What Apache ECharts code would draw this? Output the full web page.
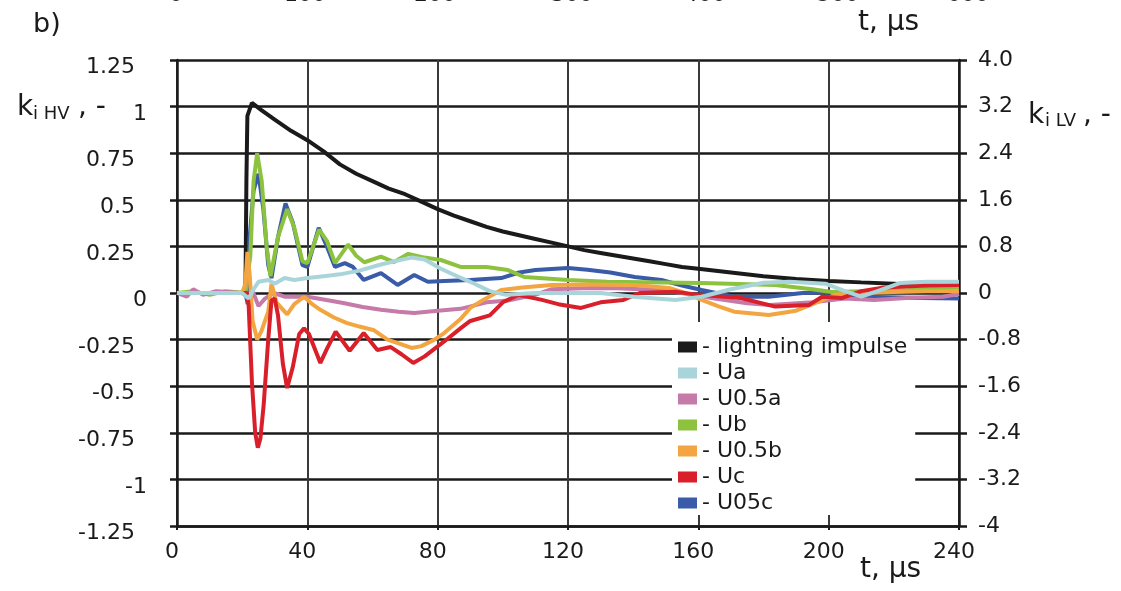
<!DOCTYPE html>
<html>
<head>
<meta charset="utf-8">
<title>b) k HV / k LV</title>
<script src="https://cdn.jsdelivr.net/npm/echarts@6/dist/echarts.min.js"></script>
<style>
  html, body { margin: 0; padding: 0; background: #fff; }
  #chart { width: 1121px; height: 591px; }
</style>
</head>
<body>
<div id="chart"></div>
<script>
// tick labels
var hvTicks = ['-1.25', '-1', '-0.75', '-0.5', '-0.25', '0', '0.25', '0.5', '0.75', '1', '1.25'];
var lvTicks = ['-4', '-3.2', '-2.4', '-1.6', '-0.8', '0', '0.8', '1.6', '2.4', '3.2', '4.0'];
var topTicks = ['0', '100', '200', '300', '400', '500', '600'];

// series, [t in us, k HV]
var impulse = [[0,0],[21,0],[21.3,0.6],[21.6,0.95],[23,1.02],[26,0.98],[30,0.93],[35,0.87],[40,0.82],[45,0.76],
  [50,0.69],[55,0.64],[60,0.6],[65,0.56],[70,0.53],[75,0.49],[80,0.45],[85,0.415],[90,0.385],[95,0.355],
  [100,0.33],[105,0.31],[110,0.29],[115,0.27],[120,0.25],[125,0.23],[130,0.215],[135,0.2],[140,0.185],
  [145,0.17],[150,0.155],[155,0.14],[160,0.13],[170,0.11],[180,0.09],[190,0.075],[200,0.065],[210,0.057],
  [220,0.05],[230,0.04],[240,0.035]];
var ua = [[0,0],[10,0],[20,0],[22,-0.03],[23.5,0.02],[25,0.06],[28,0.07],[30,0.05],[33,0.08],[36,0.07],
  [40,0.08],[45,0.09],[50,0.1],[56,0.12],[62,0.15],[68,0.175],[72,0.19],[76,0.18],[81,0.13],[86,0.09],
  [90,0.06],[96,0.01],[101,-0.01],[110,0],[120,0],[130,0],[140,-0.02],[153,-0.037],[161,-0.02],[170,0.02],
  [180,0.055],[188,0.06],[199,0.05],[205,0.01],[210,-0.02],[215,0.01],[222,0.054],[230,0.06],[240,0.06]];
var u05a = [[0,0],[3,-0.02],[5,0.02],[8,-0.01],[12,0.01],[20,0],[22,-0.03],[23,0.02],[25,-0.07],[27,-0.03],
  [29.7,0],[33,-0.02],[40,-0.02],[45,-0.035],[51,-0.054],[57,-0.075],[62.6,-0.09],[68,-0.1],[72.8,-0.107],
  [80,-0.095],[87,-0.085],[95,-0.05],[101.6,-0.04],[109.8,-0.01],[115,0.02],[127,0.027],[135,0.025],
  [148,0.016],[155,0],[165,-0.03],[175,-0.055],[182,-0.064],[195,-0.05],[205,-0.03],[214,-0.037],
  [225,-0.025],[235,-0.02],[240,-0.005]];
var ub = [[0,0],[5,0.01],[10,-0.01],[15,0.01],[21,0],[22.5,0.2],[23.5,0.6],[24.6,0.75],[26,0.6],[27.5,0.25],
  [28.7,0.09],[31,0.3],[33.8,0.45],[36,0.35],[38.5,0.17],[40,0.16],[43.6,0.34],[46,0.28],[48.5,0.16],
  [52.5,0.26],[55,0.2],[57.5,0.165],[62.6,0.195],[66.6,0.166],[71,0.21],[76,0.19],[81,0.177],[87,0.14],
  [95,0.14],[101.6,0.123],[106.6,0.086],[120,0.07],[132,0.06],[161,0.054],[183.6,0.043],[195,0.02],
  [201,0.005],[210,0.01],[224.6,0.016],[240,0.03]];
var u05b = [[0,0],[10,0],[20,0],[21,0.05],[21.6,0.22],[22.3,0.1],[23.2,-0.15],[24.6,-0.25],[26,-0.2],[28,-0.1],
  [29,0.05],[30.5,-0.05],[33.8,-0.115],[36,-0.06],[39,-0.02],[41.5,-0.06],[44,-0.09],[48,-0.13],[52,-0.16],
  [56,-0.18],[60.5,-0.2],[64.6,-0.25],[68,-0.27],[72,-0.295],[75,-0.285],[79,-0.25],[82,-0.215],[87,-0.14],
  [90,-0.08],[94,-0.037],[99.5,0.016],[106,0.03],[115,0.043],[125,0.045],[140.5,0.043],[151,0.027],[156,0],
  [161,-0.037],[166,-0.07],[171,-0.1],[181.6,-0.118],[190,-0.095],[197,-0.046],[202,-0.01],[210,0],
  [220,0.005],[230,0.01],[240,0.01]];
var uc = [[0,0],[21.5,0],[22,-0.07],[23,-0.48],[24,-0.75],[24.8,-0.83],[25.6,-0.78],[26.6,-0.6],[28,-0.25],
  [29,-0.04],[30,-0.03],[31,-0.12],[32.5,-0.38],[33.8,-0.51],[35.5,-0.4],[37.5,-0.22],[39,-0.19],[40.5,-0.22],
  [44,-0.375],[46,-0.3],[48.7,-0.207],[53,-0.31],[57.3,-0.215],[61.5,-0.306],[65.6,-0.29],[69,-0.33],
  [72.5,-0.375],[76,-0.34],[79,-0.3],[82,-0.26],[87,-0.19],[90,-0.15],[96,-0.12],[100,-0.05],[104.7,-0.01],
  [112,-0.037],[117,-0.06],[124,-0.08],[130,-0.05],[137,-0.037],[142,0],[153,0.007],[160,-0.01],[173,-0.027],
  [183.6,-0.073],[194,-0.064],[198,-0.02],[204,-0.027],[210,0.01],[217,0.03],[230,0.04],[240,0.043]];
var u05c = [[0,0],[21,0],[21.7,-0.06],[22.3,0.3],[23.5,0.55],[25,0.64],[26.5,0.45],[28,0.15],[29,0.08],
  [31,0.3],[33.3,0.48],[35.5,0.38],[38.5,0.15],[40,0.14],[43.5,0.35],[46,0.25],[48.5,0.14],[51.5,0.16],
  [54,0.14],[57.3,0.07],[62.6,0.107],[67.7,0.043],[72.8,0.097],[77,0.06],[82,0.065],[90,0.07],[99.5,0.08],
  [105,0.11],[110,0.123],[120,0.134],[126,0.125],[133,0.11],[140.5,0.086],[148.7,0.07],[155,0.04],
  [161,0.016],[171,-0.02],[181.6,-0.02],[192,0],[200,0.005],[206,-0.01],[212,-0.02],[228.7,-0.027],
  [240,-0.03]];

var FONT = 'DejaVu Sans';
var chart = echarts.init(document.getElementById('chart'));

function line(name, data, color) {
  return {
    name: name, type: 'line', data: data, showSymbol: false, symbol: 'none',
    lineStyle: { color: color, width: 4 }, itemStyle: { color: color }
  };
}

// kawałki tekstu (nazwy osi) rysowane ręcznie
function txt(s, x, y, size, align) {
  return {
    type: 'text', z: 10,
    style: { text: s, x: x, y: y, fill: '#1a1a1a', font: size + 'px "' + FONT + '"',
      textAlign: align || 'left', textVerticalAlign: 'middle' }
  };
}

var graphics = [
  txt('b)', 33, 25, 27),
  txt('t, µs', 858, 23, 28),
  txt('t, µs', 860, 570, 28),
  txt('k', 17, 108, 28), txt('i HV', 33, 114, 18), txt(', -', 78, 108, 28),
  txt('k', 1028, 116, 28), txt('i LV', 1045, 121, 18), txt(', -', 1083, 116, 28)
];
var topX = [176, 305, 435, 572, 705, 838, 968];
topTicks.forEach(function (s, i) {
  graphics.push({
    type: 'text',
    style: { text: s, x: topX[i], y: 6, fill: '#1a1a1a', font: '22px "' + FONT + '"',
      textAlign: 'center', textVerticalAlign: 'bottom' }
  });
});

var option = {
  animation: false,
  backgroundColor: '#fff',
  grid: { left: 177, right: 162, top: 60, bottom: 65 },
  legend: {
    orient: 'vertical', left: 672, top: 322,
    padding: [14, 8, 1, 6], itemGap: 4,
    itemWidth: 19, itemHeight: 11, icon: 'rect',
    backgroundColor: '#fff',
    data: ['lightning impulse', 'Ua', 'U0.5a', 'Ub', 'U0.5b', 'Uc', 'U05c'],
    formatter: function (n) { return '- ' + n; },
    textStyle: { fontFamily: FONT, fontSize: 22, color: '#1a1a1a' }
  },
  xAxis: {
    type: 'value', min: 0, max: 240, interval: 40,
    axisLine: { onZero: false, lineStyle: { color: '#1a1a1a', width: 2.5 } },
    axisTick: { show: true, length: 4, lineStyle: { color: '#1a1a1a', width: 2 } },
    axisLabel: { fontFamily: FONT, fontSize: 22, color: '#1a1a1a', margin: 15, padding: [0, 10, 0, 0] },
    splitLine: { show: true, lineStyle: { color: '#3a3a3a', width: 2 } }
  },
  yAxis: [
    {
      type: 'value', min: -1.25, max: 1.25, interval: 0.25,
      axisLine: { show: true, lineStyle: { color: '#1a1a1a', width: 2.5 } },
      axisTick: { show: true, length: 7, lineStyle: { color: '#1a1a1a', width: 2.5 } },
      axisLabel: {
        margin: 30, color: '#1a1a1a',
        formatter: function (v) {
          var s = hvTicks[Math.round((v + 1.25) / 0.25)];
          return s.indexOf('.') >= 0 ? '{d|' + s + '}' : '{i|' + s + '}';
        },
        rich: {
          d: { fontFamily: FONT, fontSize: 22, color: '#1a1a1a', padding: [15, 12, 0, 0] },
          i: { fontFamily: FONT, fontSize: 22, color: '#1a1a1a', padding: [15, 0, 0, 0] }
        }
      },
      splitLine: { show: true, lineStyle: { color: '#1a1a1a', width: 2.5 } }
    },
    {
      type: 'value', min: -4, max: 4, interval: 0.8, position: 'right',
      axisLine: { show: true, lineStyle: { color: '#1a1a1a', width: 2.5 } },
      axisTick: { show: true, length: 8, lineStyle: { color: '#1a1a1a', width: 2.5 } },
      axisLabel: {
        margin: 19, color: '#1a1a1a', fontFamily: FONT, fontSize: 22, padding: [10, 0, 0, 0],
        formatter: function (v) { return lvTicks[Math.round((v + 4) / 0.8)]; }
      },
      splitLine: { show: false }
    }
  ],
  graphic: graphics,
  series: [
    line('lightning impulse', impulse, '#1a1a1a'),
    line('U05c', u05c, '#3a5ca8'),
    line('Ub', ub, '#8dc23f'),
    line('U0.5a', u05a, '#c57aa9'),
    line('U0.5b', u05b, '#f2a541'),
    line('Uc', uc, '#d81f2a'),
    line('Ua', ua, '#a9d5da')
  ]
};
chart.setOption(option);
</script>
</body>
</html>
